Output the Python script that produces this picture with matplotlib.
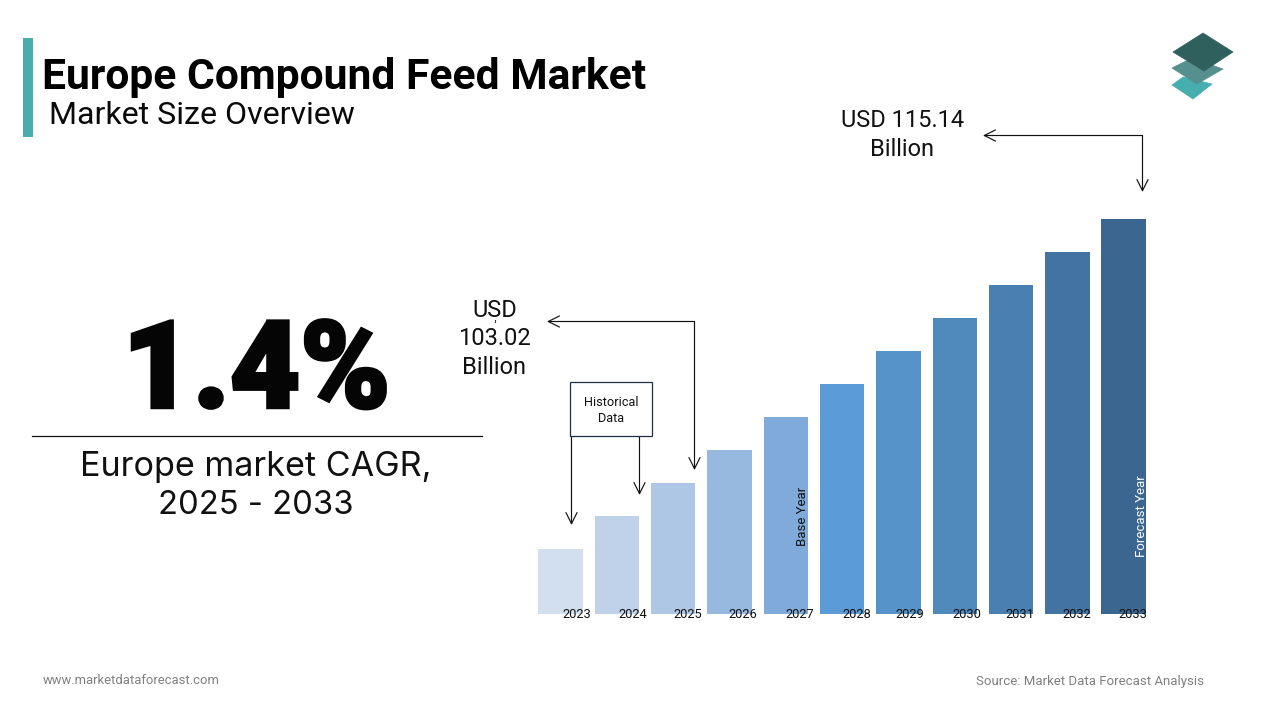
import matplotlib
matplotlib.use("Agg")
import matplotlib.pyplot as plt
import matplotlib.patheffects as pe
from matplotlib.patches import Polygon, Rectangle

years = ["2023","2024","2025","2026","2027","2028","2029","2030","2031","2032","2033"]
bar_values = [65,98,131,164,197,230,263,296,329,362,395]
bar_colors = ["#d2dfef","#c0d2e9","#aec7e4","#98b9df","#7faad9","#5b9bd7","#5693c9","#508abc","#4a80b1","#4374a1","#3b668f"]

W, H = 1280, 720
fig = plt.figure(figsize=(12.8, 7.2), dpi=100, facecolor="white")
R = "Roboto"

x0, x1, ybot, ytop = 538.2, 1146.0, 614.0, 219.0
ax = fig.add_axes([x0/W, 1-ybot/H, (x1-x0)/W, (ybot-ytop)/H])
ax.bar(range(len(years)), bar_values, width=0.79, color=bar_colors, linewidth=0)
ax.set_xlim(-0.395, 10.395)
ax.set_ylim(0, 395)
ax.axis("off")

ov = fig.add_axes([0, 0, 1, 1], zorder=5)
ov.set_xlim(0, W); ov.set_ylim(H, 0); ov.axis("off"); ov.patch.set_alpha(0)

ov.add_patch(Rectangle((23, 38), 10, 99, color="#4bacac", lw=0))
ov.text(42, 78, "Europe Compound Feed Market", family=R, weight="bold", fontsize=30.7, va="center", ha="left", color="#000000")
ov.text(49, 115.5, "Market Size Overview", family=R, fontsize=23.1, va="center", ha="left", color="#0a0a0a")

# logo
ov.add_patch(Polygon([(1172,85),(1183,77),(1212,84),(1193,99)], closed=True, color="#46aeae", lw=0.5, joinstyle="round"))
ov.add_patch(Polygon([(1172,68),(1192,58),(1223,69),(1197,84)], closed=True, color="#56908e", lw=0.5, joinstyle="round"))
ov.add_patch(Polygon([(1173,52),(1203,33),(1233,52),(1204,71)], closed=True, color="#2f605d", lw=0.5, joinstyle="round"))

# KPI
t = ov.text(256.5, 374, "1.4%", family=R, weight="black", fontsize=87.5, ha="center", va="center", color="#050505")
t.set_path_effects([pe.withStroke(linewidth=2.5, foreground="#050505", joinstyle="miter")])
ov.plot([32, 482], [436, 436], color="#111111", lw=0.9)
ov.text(256, 467, "Europe market CAGR,", family="Inter", fontsize=24.6, ha="center", va="center", color="#111111")
ov.text(256, 506, "2025 - 2033", family="Inter", fontsize=23.6, ha="center", va="center", color="#111111")

# callouts
ov.text(902.5, 120.5, "USD 115.14", family=R, fontsize=17, ha="center", va="center", color="#111111")
ov.text(902.5, 149.5, "Billion", family=R, fontsize=17, ha="center", va="center", color="#111111")
for y, s in [(310.5, "USD"), (338.5, "103.02"), (367.5, "Billion")]:
    ov.text(494.5, y, s, family=R, fontsize=17, ha="center", va="center", color="#111111")
ov.plot([494.5, 494.5], [319.5, 321.5], color="#333333", lw=0.8)

ap = dict(arrowstyle="->", color="#111111", lw=0.85, mutation_scale=20, shrinkA=0, shrinkB=0)
def arrow(a, b):
    ov.annotate("", xy=b, xytext=a, arrowprops=ap)
arrow((1142.5, 135.5), (983, 135.5))
arrow((1142.5, 135.5), (1142.5, 192))
arrow((694.5, 321.5), (547, 321.5))
arrow((694.5, 321.5), (694.5, 470))
arrow((571.5, 437), (571.5, 525))
arrow((639.5, 437), (639.5, 495))

ov.add_patch(Rectangle((570, 382), 82, 54, fc="white", ec="#1f2f46", lw=0.9, zorder=4))
ov.text(611, 402.5, "Historical", family=R, fontsize=9.2, ha="center", va="center", color="#111111", zorder=6)
ov.text(611, 418.5, "Data", family=R, fontsize=9.2, ha="center", va="center", color="#111111", zorder=6)

label_x = [577, 633, 687.5, 743, 800, 857, 910, 967, 1020, 1077, 1133]
for x, y in zip(label_x, years):
    ov.text(x, 615, y, family=R, fontsize=9.3, ha="center", va="center", color="#111111")

ov.text(802, 516, "Base Year", family=R, fontsize=9.5, rotation=90, ha="center", va="center", color="#111111")
ov.text(1141.5, 516, "Forecast Year", family=R, fontsize=9.5, rotation=90, ha="center", va="center", color="#ffffff")

ov.text(43, 680.5, "www.marketdataforecast.com", family=R, fontsize=9.4, ha="left", va="center", color="#808080")
ov.text(1204, 681, "Source: Market Data Forecast Analysis", family=R, fontsize=9.5, ha="right", va="center", color="#808080")

fig.savefig("out.png", dpi=100)
